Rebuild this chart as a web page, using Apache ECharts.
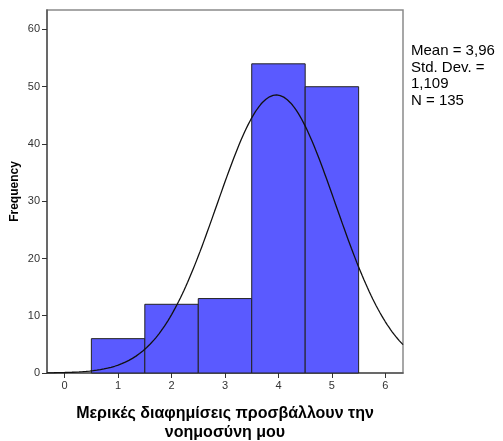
<!DOCTYPE html>
<html>
<head>
<meta charset="utf-8">
<script src="https://cdn.jsdelivr.net/npm/echarts@6/dist/echarts.min.js"></script>
<style>
  html, body { margin: 0; padding: 0; background: #fff; }
  #chart { width: 503px; height: 441px; }
</style>
</head>
<body>
<div id="chart"></div>
<script>
// Histogram bins (centre of each unit-wide bin) and their counts
const binCenters = [1, 2, 3, 4, 5];
const frequencies = [6, 12, 13, 54, 50];

// Summary statistics shown beside the plot
const statMean = 3.96;
const statSD = 1.109;
const statN = 135;
const statLines = ['Mean = 3,96', 'Std. Dev. =', '1,109', 'N = 135'];

// Axis ticks
const xTicks = [0, 1, 2, 3, 4, 5, 6];
const yTicks = [0, 10, 20, 30, 40, 50, 60];

const xMin = -0.33, xMax = 6.33;
const yMin = 0, yMax = 63.4;

// Fitted normal curve scaled to counts (bin width 1)
const curve = [];
const steps = 200;
for (let i = 0; i <= steps; i++) {
  const x = xMin + (xMax - xMin) * i / steps;
  const z = (x - statMean) / statSD;
  const y = statN / (statSD * Math.sqrt(2 * Math.PI)) * Math.exp(-0.5 * z * z);
  curve.push([x, y]);
}

const chart = echarts.init(document.getElementById('chart'), null, { renderer: 'canvas' });

const option = {
  animation: false,
  backgroundColor: '#fff',
  grid: {
    left: 47, right: 100, top: 10, bottom: 68,
    containLabel: false, outerBoundsMode: 'none',
    show: true, borderColor: '#8a8a8a', borderWidth: 1.5, backgroundColor: '#fff'
  },
  xAxis: {
    type: 'value', min: xMin, max: xMax,
    name: 'Μερικές διαφημίσεις προσβάλλουν την\nνοημοσύνη μου',
    nameLocation: 'middle', nameGap: 31,
    nameTextStyle: { fontFamily: 'Liberation Sans, Arial', fontSize: 16, fontWeight: 'bold', color: '#000', lineHeight: 19 },
    splitLine: { show: false },
    axisLine: { show: true, onZero: false, lineStyle: { color: '#555', width: 1.5 } },
    axisTick: { show: true, inside: false, length: 5, customValues: xTicks, lineStyle: { color: '#333', width: 1 } },
    axisLabel: { customValues: xTicks, fontFamily: 'Liberation Sans, Arial', fontSize: 11, color: '#333', margin: 7 }
  },
  yAxis: {
    type: 'value', min: yMin, max: yMax,
    name: 'Frequency', nameLocation: 'middle', nameGap: 26, nameMoveOverlap: false,
    nameTextStyle: { fontFamily: 'Liberation Sans, Arial', fontSize: 12, fontWeight: 'bold', color: '#000' },
    splitLine: { show: false },
    axisLine: { show: true, onZero: false, lineStyle: { color: '#555', width: 1.5 } },
    axisTick: { show: true, inside: false, length: 5, customValues: yTicks, lineStyle: { color: '#333', width: 1 } },
    axisLabel: { customValues: yTicks, fontFamily: 'Liberation Sans, Arial', fontSize: 11, color: '#333', margin: 7 }
  },
  series: [
    {
      type: 'custom',
      data: binCenters.map((c, i) => [c, frequencies[i]]),
      renderItem: function (params, api) {
        const c = api.value(0), v = api.value(1);
        const p0 = api.coord([c - 0.5, 0]);
        const p1 = api.coord([c + 0.5, v]);
        return {
          type: 'rect',
          shape: { x: p0[0], y: p1[1], width: p1[0] - p0[0], height: p0[1] - p1[1] },
          style: { fill: '#5a5aff', stroke: '#222', lineWidth: 1 }
        };
      },
      z: 2
    },
    {
      type: 'line',
      data: curve,
      showSymbol: false,
      symbol: 'none',
      lineStyle: { color: '#111', width: 1.3 },
      clip: true,
      z: 3
    }
  ],
  graphic: [
    {
      type: 'text', left: 411, top: 43,
      style: {
        text: statLines.join('\n'),
        fontFamily: 'Liberation Sans, Arial', fontSize: 15, lineHeight: 16.5, fill: '#000'
      }
    }
  ]
};

chart.setOption(option);
</script>
</body>
</html>
